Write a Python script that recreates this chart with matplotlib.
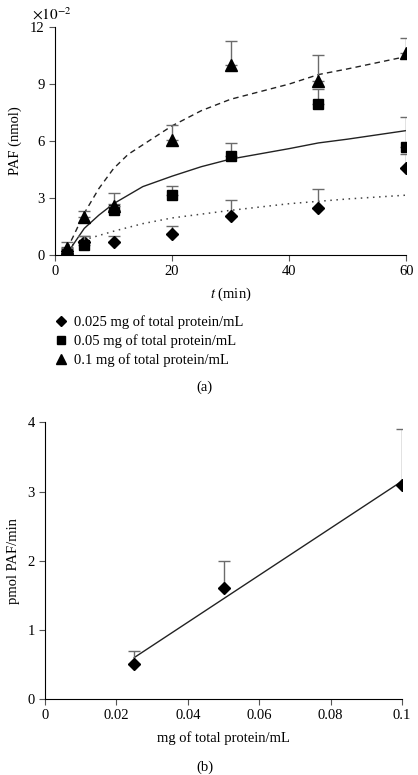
import numpy as np
import matplotlib
matplotlib.use("Agg")
import matplotlib.pyplot as plt

plt.rcParams['font.family'] = ['Liberation Serif', 'DejaVu Serif']
plt.rcParams['font.size'] = 10.5
plt.rcParams['mathtext.fontset'] = 'stix'

# panel (a): PAF (x1e-2 nmol) vs time
t_pts = [2, 5, 10, 20, 30, 45, 60]
paf_025 = [0.2, 0.7, 0.7, 1.1, 2.07, 2.45, 4.6]
paf_025_err = [0.2, 0.3, 0.3, 0.4, 0.85, 1.0, 0.7]
paf_05 = [0.1, 0.5, 2.35, 3.15, 5.2, 7.95, 5.7]
paf_05_err = [0.2, 0.5, 0.35, 0.5, 0.7, 0.8, 1.55]
paf_1 = [0.35, 2.0, 2.6, 6.05, 10.0, 9.15, 10.65]
paf_1_err = [0.35, 0.3, 0.65, 0.8, 1.25, 1.4, 0.8]

fit_t_dot = [2, 5, 10, 15, 20, 30, 40, 50, 60]
fit_dot = [0.4, 0.8, 1.25, 1.65, 1.95, 2.35, 2.7, 2.95, 3.15]
fit_t_sol = [2, 3, 5, 7.5, 10, 15, 20, 25, 30, 40, 45, 50, 60]
fit_sol = [0.0, 0.5, 1.4, 2.1, 2.7, 3.6, 4.15, 4.65, 5.05, 5.6, 5.9, 6.1, 6.55]
fit_t_dash = [2, 3, 5, 7.5, 10, 12.5, 15, 20, 25, 30, 40, 45, 50, 60]
fit_dash = [0.3, 0.9, 2.2, 3.5, 4.55, 5.3, 5.8, 6.8, 7.6, 8.2, 9.0, 9.5, 9.8, 10.45]

labels = ["0.025 mg of total protein/mL",
          "0.05 mg of total protein/mL",
          "0.1 mg of total protein/mL"]

# panel (b): rate vs protein
conc = [0.025, 0.05, 0.1]
rate = [0.5, 1.6, 3.1]
rate_err = [0.2, 0.4, 0.8]
fit_conc = [0.025, 0.1]
fit_rate = [0.6, 3.15]

err_col = '#6b6b6b'

fig = plt.figure(figsize=(4.18, 7.75), dpi=100)

ax1 = fig.add_axes([0.1316, 0.671, 0.840, 0.294])
ax1.plot(fit_t_dot, fit_dot, linestyle=(0, (1, 3)), color='#444444', lw=1.1)
ax1.plot(fit_t_sol, fit_sol, '-', color='#222222', lw=1)
ax1.plot(fit_t_dash, fit_dash, '--', color='#222222', lw=1, dashes=(4, 3))

handles = []
for y, e, m, ms in [(paf_025, paf_025_err, 'D', 6.5),
                    (paf_05, paf_05_err, 's', 6.5),
                    (paf_1, paf_1_err, '^', 8)]:
    ax1.errorbar(t_pts, y, yerr=[np.zeros(len(e)), e], fmt='none',
                 ecolor=err_col, elinewidth=1, capsize=4.5, capthick=1)
    h, = ax1.plot(t_pts, y, linestyle='none', marker=m, ms=ms, color='black')
    handles.append(h)

ax1.set_xlim(0, 60)
ax1.set_ylim(0, 12)
ax1.set_xticks([0, 20, 40, 60])
ax1.set_yticks([0, 3, 6, 9, 12])
ax1.spines['top'].set_visible(False)
ax1.spines['right'].set_visible(False)
ax1.tick_params(direction='out', length=4, color='#555555')
ax1.set_ylabel('PAF (nmol)', labelpad=6)
ax1.set_xlabel('$t$ (min)', labelpad=5)
ax1.text(-0.065, 1.035, r'$\times10^{-2}$', transform=ax1.transAxes, fontsize=11)

fig.legend(handles, labels, loc='upper left', bbox_to_anchor=(0.097, 0.610),
           frameon=False, handletextpad=0.4, labelspacing=0.35,
           handlelength=1.0, markerscale=0.85)
fig.text(0.49, 0.500, '(a)', ha='center', va='center')

ax2 = fig.add_axes([0.1077, 0.098, 0.854, 0.357])
ax2.plot(fit_conc, fit_rate, '-', color='#222222', lw=1)
ax2.errorbar(conc, rate, yerr=[np.zeros(3), rate_err], fmt='none',
             ecolor=err_col, elinewidth=1, capsize=4.5, capthick=1)
ax2.plot(conc, rate, linestyle='none', marker='D', ms=6.5, color='black')
ax2.set_xlim(0, 0.1)
ax2.set_ylim(0, 4)
ax2.set_xticks([0, 0.02, 0.04, 0.06, 0.08, 0.1])
ax2.set_xticklabels(['0', '0.02', '0.04', '0.06', '0.08', '0.1'])
ax2.set_yticks([0, 1, 2, 3, 4])
ax2.spines['top'].set_visible(False)
ax2.spines['right'].set_visible(False)
ax2.tick_params(direction='out', length=4, color='#555555')
ax2.set_ylabel('pmol PAF/min', labelpad=5)
ax2.set_xlabel('mg of total protein/mL', labelpad=6)
fig.text(0.49, 0.0105, '(b)', ha='center', va='center')

fig.savefig('out.png', dpi=100)
